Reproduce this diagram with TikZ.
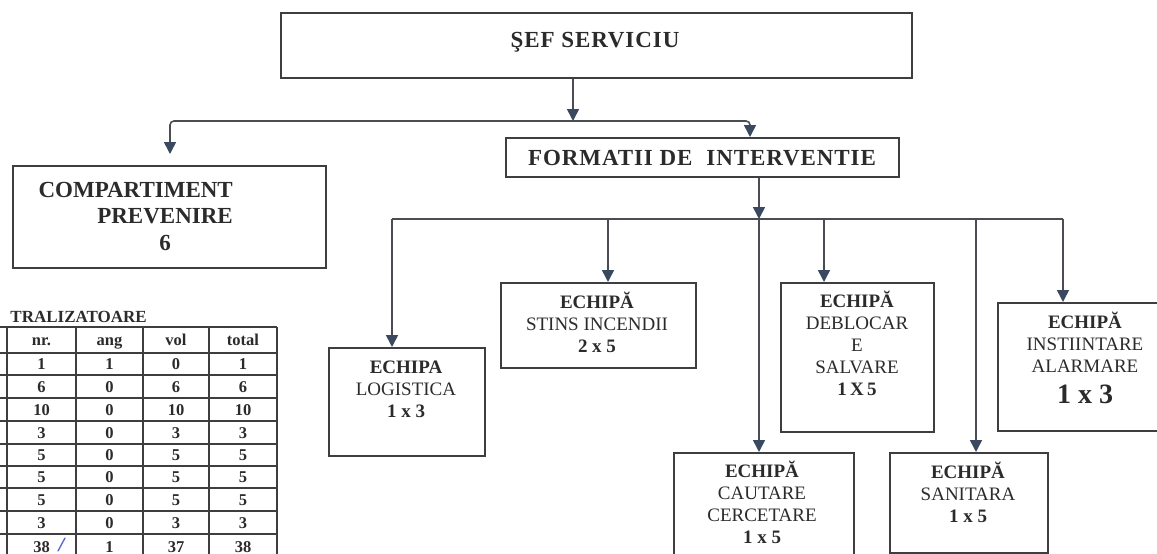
\documentclass[tikz,border=0pt]{standalone}
\usepackage{fontspec}
\setmainfont{Liberation Serif}
\usepackage{calc}
\usetikzlibrary{arrows.meta}
\definecolor{linec}{HTML}{4A4D52}
\definecolor{boxc}{HTML}{3E3E40}
\definecolor{tipc}{HTML}{3A4860}
\definecolor{txtc}{HTML}{2B2B2B}
\definecolor{inkc}{HTML}{5565C8}
\begin{document}
\begin{tikzpicture}[x=1pt,y=-1pt,
  >={Triangle[length=12pt,width=12pt,color=tipc]},
  box/.style={draw=boxc, line width=1.8pt, inner sep=0pt, anchor=north west},
  conn/.style={draw=linec, line width=1.6pt, ->},
  busline/.style={draw=linec, line width=1.6pt},
  lbl/.style={text=txtc, inner sep=0pt, anchor=base, align=center, font=\fontsize{19}{22}\selectfont},
  head/.style={text=txtc, inner sep=0pt, anchor=base, font=\fontsize{23}{26.5}\selectfont\bfseries\addfontfeature{LetterSpace=4}},
  grid/.style={draw=boxc, line width=1.2pt},
  cell/.style={text=txtc, inner sep=0pt, anchor=base, font=\fontsize{16.5}{18}\selectfont\bfseries}]
\useasboundingbox (0,0) rectangle (1157,554);
\clip (0,0) rectangle (1157,554);
\fill[white] (0,0) rectangle (1157,554);

% boxes
\node[box, minimum width=631pt, minimum height=65pt] (sef) at (280,12) {};
\node[box, minimum width=393pt, minimum height=39pt] (form) at (505,137) {};
\node[box, minimum width=313pt, minimum height=102pt] (comp) at (12,165) {};
\node[box, minimum width=156pt, minimum height=108pt] (logi) at (328,347) {};
\node[box, minimum width=195pt, minimum height=85pt] (stins) at (500,282) {};
\node[box, minimum width=180pt, minimum height=112pt] (caut) at (673,452) {};
\node[box, minimum width=153pt, minimum height=149pt] (debl) at (780,282) {};
\node[box, minimum width=158pt, minimum height=100pt] (sani) at (889,452) {};
\node[box, minimum width=172pt, minimum height=128pt] (inst) at (997,302) {};

% texts (multi-line nodes: base = baseline of the last line)
\node[head] (sefT) at (595,47) {ŞEF SERVICIU};
\node[head] (formT) at (702,165) {FORMATII DE\hspace{14pt}INTERVENTIE};
\node[text=txtc, inner sep=0pt, anchor=base east, align=right,
      font=\fontsize{23}{26.5}\selectfont\bfseries] (compT) at (233,250)
      {COMPARTIMENT\\PREVENIRE\\\makebox[\widthof{PREVENIRE}]{6}};
\node[lbl] (logiT) at (406,417) {\textbf{ECHIPA}\\LOGISTICA\\\textbf{1 x 3}};
\node[lbl] (stinsT) at (597,352) {\textbf{ECHIPĂ}\\STINS INCENDII\\\textbf{2 x 5}};
\node[lbl] (cautT) at (762,543) {\textbf{ECHIPĂ}\\CAUTARE\\CERCETARE\\\textbf{1 x 5}};
\node[lbl] (deblT) at (857,395) {\textbf{ECHIPĂ}\\DEBLOCAR\\E\\SALVARE\\\textbf{1\,X\,5}};
\node[lbl] (saniT) at (968,522) {\textbf{ECHIPĂ}\\SANITARA\\\textbf{1 x 5}};
\node[lbl] (instT) at (1085,403) {\textbf{ECHIPĂ}\\INSTIINTARE\\ALARMARE\\[9pt]{\fontsize{28}{28}\selectfont\bfseries 1 x 3}};

% upper connectors
\coordinate (b1M) at (573,121);
\coordinate (b1R) at (750,121);
\coordinate (compTip) at (170,154);
\draw[conn] (sef.south -| b1M) -- (b1M);
\draw[busline, <->, rounded corners=4pt] (compTip) |- (b1R) -- (form.north -| b1R);

% lower bus
\coordinate (b2L) at (392,219);
\coordinate (b2S) at (608,219);
\coordinate (b2C) at (759,219);
\coordinate (b2D) at (824,219);
\coordinate (b2N) at (976,219);
\coordinate (b2R) at (1063,219);
\draw[busline] (b2L) -- (b2R);
\draw[conn] (form.south -| b2C) -- (b2C);
\draw[conn] (b2L) -- (logi.north -| b2L);
\draw[conn] (b2S) -- (stins.north -| b2S);
\draw[conn] (b2C) -- (caut.north -| b2C);
\draw[conn] (b2D) -- (debl.north -| b2D);
\draw[conn] (b2N) -- (sani.north -| b2N);
\draw[conn] (b2R) -- (inst.north -| b2R);

% table
\node[text=txtc, inner sep=0pt, anchor=base east, font=\fontsize{17}{18}\selectfont\bfseries] (tabT) at (147,322) {TRALIZATOARE};
\foreach \yy in {327,353,375,398,421,444,466,488,511,534}
  \draw[grid] (0,\yy) -- (277,\yy);
\foreach \xx in {7,76,143,209}
  \draw[grid] (\xx,327) -- (\xx,556);
\draw[grid, line width=2pt] (277,327) -- (277,556);
\foreach \yy/\a/\b/\c/\d [count=\r] in {345/nr./ang/vol/total, 369/1/1/0/1, 392/6/0/6/6,
  415/10/0/10/10, 438/3/0/3/3, 460/5/0/5/5, 482/5/0/5/5, 505/5/0/5/5, 528/3/0/3/3, 552/38/1/37/38} {
  \node[cell] (c\r a) at (41.5,\yy) {\a};
  \node[cell] (c\r b) at (109.5,\yy) {\b};
  \node[cell] (c\r c) at (176,\yy) {\c};
  \node[cell] (c\r d) at (243,\yy) {\d};
}
\draw[inkc, line width=1.3pt, line cap=round] (58,551) -- (65,538);
\end{tikzpicture}
\end{document}
